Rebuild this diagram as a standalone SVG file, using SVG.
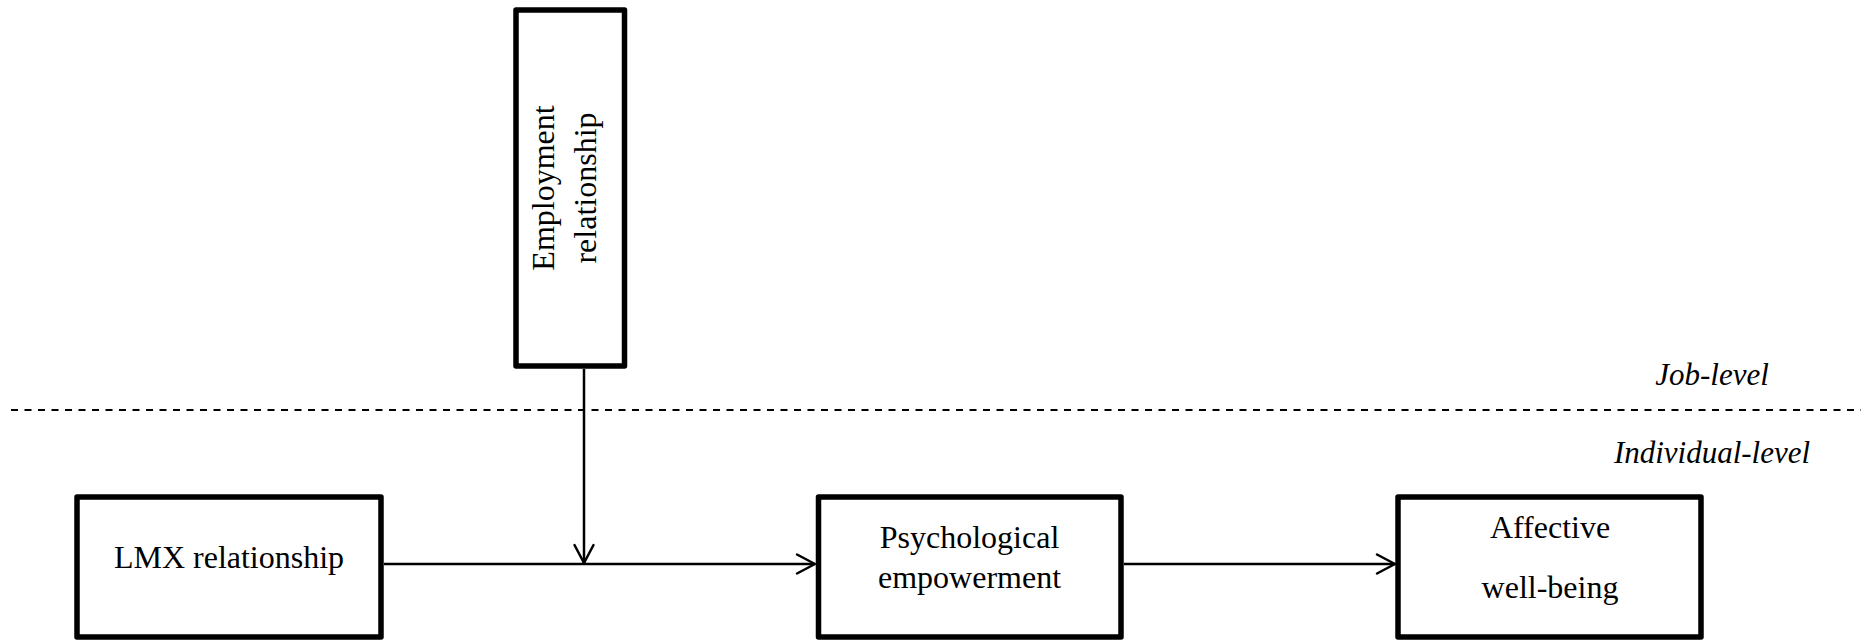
<svg xmlns="http://www.w3.org/2000/svg" width="1861" height="640" viewBox="0 0 1861 640">
<style>
  .box { fill: #ffffff; stroke: #000000; stroke-width: 5.5; stroke-linejoin: round; }
  .lbl { font-family: "Liberation Serif", "Times New Roman", serif; font-size: 32px; fill: #000000; text-anchor: middle; }
  .lvl { font-family: "Liberation Serif", "Times New Roman", serif; font-size: 31px; font-style: italic; fill: #000000; text-anchor: middle; }
  .conn { stroke: #000000; stroke-width: 2.5; fill: none; }
  .dash { stroke: #000000; stroke-width: 2; stroke-dasharray: 7 6.5; fill: none; }
</style>
<defs>
  <marker id="arrow" viewBox="-22 -12 24 24" refX="0" refY="0" markerWidth="24" markerHeight="24" markerUnits="userSpaceOnUse" orient="auto">
    <path d="M -18 -9.5 L 0 0 L -18 9.5" fill="none" stroke="#000000" stroke-width="2.5" stroke-linejoin="round" stroke-linecap="round"/>
  </marker>
</defs>
<rect width="1861" height="640" fill="#ffffff"/>

<g id="levels">
  <line class="dash" x1="11" y1="410" x2="1861" y2="410"/>
  <text class="lvl" x="1712" y="385">Job-level</text>
  <text class="lvl" x="1712" y="463">Individual-level</text>
</g>

<g id="connectors">
  <line class="conn" x1="384" y1="564" x2="815" y2="564" marker-end="url(#arrow)"/>
  <line class="conn" x1="584" y1="369" x2="584" y2="563" marker-end="url(#arrow)"/>
  <line class="conn" x1="1124" y1="564" x2="1395" y2="564" marker-end="url(#arrow)"/>
</g>

<g id="employment">
  <rect class="box" x="516" y="10" width="108.5" height="356"/>
  <text class="lbl" transform="translate(554,188) rotate(-90)">Employment</text>
  <text class="lbl" transform="translate(596,188) rotate(-90)">relationship</text>
</g>

<g id="lmx">
  <rect class="box" x="77" y="497" width="304" height="140"/>
  <text class="lbl" x="229" y="568">LMX relationship</text>
</g>

<g id="psych">
  <rect class="box" x="818.5" y="497" width="302.5" height="140"/>
  <text class="lbl" x="969.5" y="548">Psychological</text>
  <text class="lbl" x="969.5" y="588">empowerment</text>
</g>

<g id="affective">
  <rect class="box" x="1398" y="497" width="303" height="140"/>
  <text class="lbl" x="1550" y="538">Affective</text>
  <text class="lbl" x="1550" y="598">well-being</text>
</g>
</svg>
